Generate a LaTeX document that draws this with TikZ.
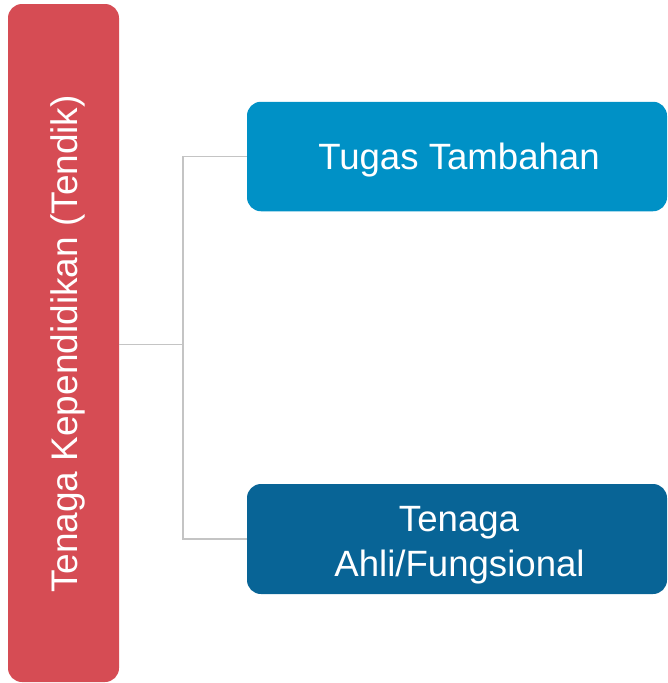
\documentclass[tikz,border=0pt]{standalone}
\usepackage{fontspec}
\setmainfont{Liberation Sans}
\definecolor{tred}{RGB}{214,76,84}
\definecolor{tblueA}{RGB}{0,145,198}
\definecolor{tblueB}{RGB}{8,100,150}
\definecolor{tline}{RGB}{196,196,196}
\begin{document}
\begin{tikzpicture}[x=1pt,y=-1pt,
  boxshape/.style={rounded corners=14pt,inner sep=0pt,draw=none},
  lbl/.style={text=white,inner sep=0pt,anchor=base,font=\fontsize{36.6}{45}\selectfont},
  conn/.style={draw=tline,line width=1.3pt}]
\useasboundingbox (0,0) rectangle (667,683);
\node[boxshape,fill=tred,minimum width=111pt,minimum height=678pt] (tendik) at (63.5,343) {};
\node[boxshape,fill=tblueA,minimum width=420pt,minimum height=109.5pt] (tugas) at (457,156.5) {};
\node[boxshape,fill=tblueB,minimum width=420pt,minimum height=110pt] (ahli) at (457,539) {};
\node[lbl,rotate=90,font=\fontsize{37}{45}\selectfont] (tendiklbl) at (77,344) {Tenaga Kependidikan (Tendik)};
\node[lbl] (tugaslbl) at (459,169) {Tugas Tambahan};
\node[lbl] (ahlilbl1) at (459,531.5) {Tenaga};
\node[lbl] (ahlilbl2) at (459.5,576.5) {Ahli/Fungsional};
\coordinate (j) at (183,344.5);
\draw[conn] (tendik.east |- j) -- (j);
\draw[conn] (tugas.west) -| (j) |- (ahli.west);
\end{tikzpicture}
\end{document}
